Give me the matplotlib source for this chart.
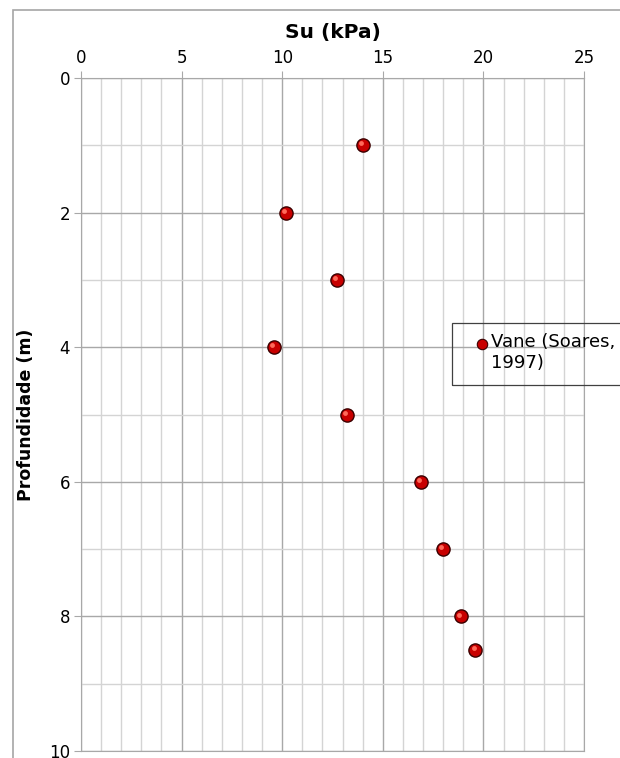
import matplotlib.pyplot as plt
from matplotlib.patches import Rectangle
from matplotlib.lines import Line2D
from matplotlib.ticker import MultipleLocator
from matplotlib.transforms import offset_copy

# resistência não drenada (Vane) x profundidade
su = [14.0, 10.2, 12.7, 9.6, 13.2, 16.9, 18.0, 18.9, 19.6]
prof = [1, 2, 3, 4, 5, 6, 7, 8, 8.5]
serie = 'Vane (Soares,\n1997)'

plt.rcParams['font.family'] = ['DejaVu Sans']

W, H = 620, 758
fig = plt.figure(figsize=(W / 100, H / 100), dpi=100)
ax = fig.add_axes([81 / W, 7 / H, 503 / W, 673 / H])


def fx(px):
    return px / W


def fy(py):
    return 1 - py / H


# moldura externa do gráfico
fig.patches.append(Rectangle((fx(12.5), -0.05), 1.0, fy(10) + 0.05,
                             transform=fig.transFigure, fill=False,
                             edgecolor='#a6a6a6', lw=1.2, zorder=0))

# pontos com um brilho pequeno para parecer esfera
ax.plot(su, prof, 'o', ms=9.5, mfc='#c80000', mec='#3a0000', mew=1.0, zorder=5)
hl = offset_copy(ax.transData, fig=fig, x=-1.3, y=1.3, units='points')
ax.plot(su, prof, 'o', ms=3.5, mfc='#ff6a5a', mec='none', transform=hl, zorder=6)

ax.set_xlim(0, 25)
ax.set_ylim(10, 0)
ax.xaxis.set_major_locator(MultipleLocator(5))
ax.xaxis.set_minor_locator(MultipleLocator(1))
ax.yaxis.set_major_locator(MultipleLocator(2))
ax.yaxis.set_minor_locator(MultipleLocator(1))
ax.xaxis.tick_top()
ax.xaxis.set_label_position('top')

ax.grid(which='major', color='#a8a8a8', lw=1.0)
ax.grid(which='minor', color='#d4d4d4', lw=1.0)
ax.tick_params(which='major', length=5, color='#a8a8a8', labelsize=12, pad=3)
ax.tick_params(which='minor', length=0)
for s in ax.spines.values():
    s.set_color('#a8a8a8')

ax.set_xlabel('Su (kPa)', fontsize=14.5, fontweight='bold', labelpad=8)
ax.set_ylabel('Profundidade (m)', fontsize=12.5, fontweight='bold', labelpad=10)

# legenda sem preenchimento (a grade aparece por trás)
fig.patches.append(Rectangle((fx(451.5), fy(385)), fx(200), fy(323) - fy(385),
                             transform=fig.transFigure, fill=False,
                             edgecolor='#404040', lw=0.9, zorder=8))
fig.add_artist(Line2D([fx(482)], [fy(344)], marker='o', ms=7.5, mfc='#c80000',
                      mec='#3a0000', mew=0.8, transform=fig.transFigure, zorder=9))
fig.text(fx(491), fy(333), serie, fontsize=13, va='top', ha='left',
         linespacing=1.25, transform=fig.transFigure, zorder=9)

fig.savefig('out.png', dpi=100)
